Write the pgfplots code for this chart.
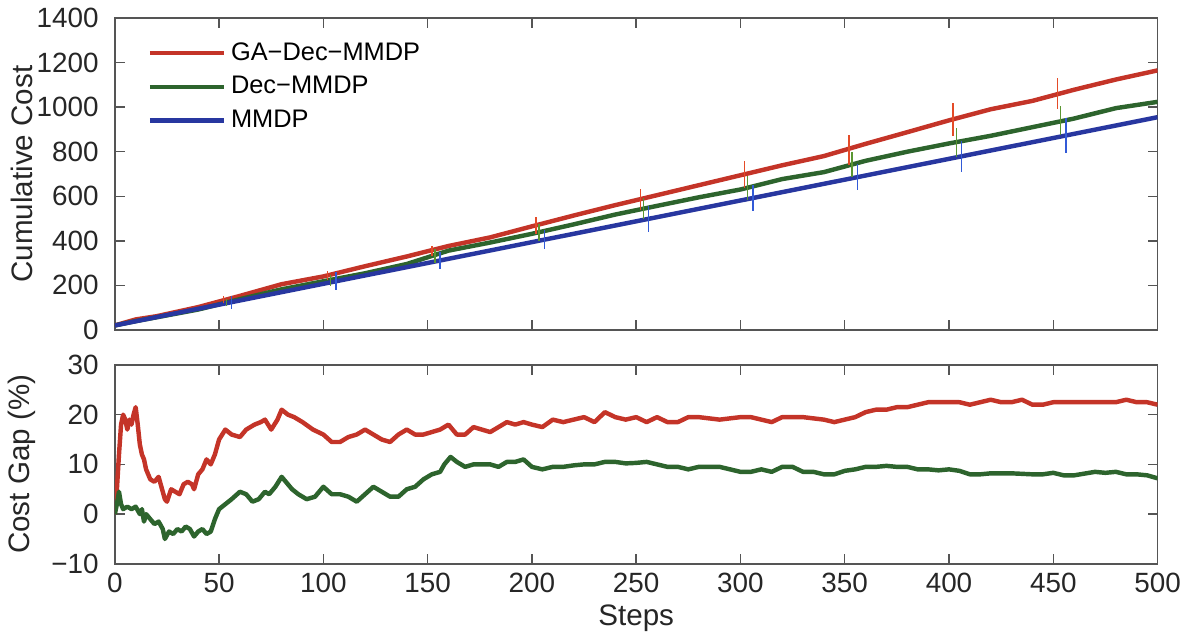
\documentclass[border=0pt]{standalone}
\usepackage{fontspec}
\setmainfont{Liberation Sans}
\usepackage{pgfplots}
\pgfplotsset{compat=1.18}

\definecolor{cRed}{RGB}{196,52,40}
\definecolor{cGreen}{RGB}{45,100,45}
\definecolor{cBlue}{RGB}{40,55,160}
\definecolor{eRed}{RGB}{228,75,40}
\definecolor{eGreen}{RGB}{90,150,50}
\definecolor{eBlue}{RGB}{50,90,215}
\definecolor{axgray}{RGB}{85,85,85}

\pgfplotsset{
  mystyle/.style={
    scale only axis,
    width=423pt,
    xmin=0, xmax=500,
    xtick={0,50,...,500},
    tick align=inside,
    major tick length=4pt,
    axis line style={axgray, line width=0.6pt},
    every tick/.style={axgray, line width=0.6pt},
    /pgf/number format/assume math mode=true,
    /pgf/number format/1000 sep={},
    tick label style={font=\fontsize{11.3}{13}\selectfont, text=black!85},
    yticklabel style={xshift=-3pt},
    label style={font=\fontsize{12}{14}\selectfont, text=black!85},
    ylabel style={at={(axis description cs:-0.089,0.5)}, anchor=center},
  },
  dataline/.style={line width=1.8pt, line join=round},
  ebar/.style={forget plot, draw=none, no markers,
    error bars/.cd, y dir=both, y explicit, error mark=none,
    error bar style={draw=#1, line width=0.6pt}},
}

\begin{document}
\begin{tikzpicture}
\begin{axis}[
  mystyle,
  name=top,
  at={(0,0)}, anchor=south west,
  height=126.5pt,
  ymin=0, ymax=1400,
  ytick={0,200,...,1400},
  xticklabel=\empty,
  ylabel={Cumulative Cost},
  legend style={at={(0.024,0.955)}, anchor=north west, draw=none, fill=none,
    font=\fontsize{10.3}{12}\selectfont, row sep=1pt,
    legend cell align=left,
    /tikz/every even column/.append style={column sep=3pt}},
  legend image code/.code={\draw[#1] (0pt,0pt) -- (30pt,0pt);},
]
\addplot[dataline, cRed] coordinates {
  (0,20) (10,47.0) (20,61.4) (40,102.4) (60,152.7) (80,205.2) (100,240.1)
  (120,285.9) (140,329.7) (160,376.7) (180,415.4) (200,464.9) (220,513.4)
  (240,560.2) (260,604.9) (280,649.6) (300,694.3) (320,739.0) (340,780.4)
  (360,835.3) (380,887.7) (400,940.8) (420,990.6) (440,1028.2) (460,1078.2)
  (480,1124.1) (500,1165.1)
};
\addlegendentry{GA−Dec−MMDP}
\addplot[dataline, cGreen] coordinates {
  (0,20) (10,39.3) (20,56.5) (40,91.5) (60,138.1) (80,182.3) (100,218.4)
  (120,254.2) (140,295.9) (160,355.9) (180,392.3) (200,431.4) (220,473.7)
  (240,518.0) (260,556.8) (280,595.2) (300,630.4) (320,677.1) (340,708.3)
  (360,759.1) (380,800.0) (400,837.1) (420,871.4) (440,910.2) (460,948.9)
  (480,995.6) (500,1023.8)
};
\addlegendentry{Dec−MMDP}
\addplot[dataline, cBlue] coordinates {
  (0,20) (10,38.7) (20,57.4) (40,94.8) (60,132.2) (80,169.6) (100,207.0)
  (120,244.4) (140,281.8) (160,319.2) (180,356.6) (200,394.0) (220,431.4)
  (240,468.8) (260,506.2) (280,543.6) (300,581.0) (320,618.4) (340,655.8)
  (360,693.2) (380,730.6) (400,768.0) (420,805.4) (440,842.8) (460,880.2)
  (480,917.6) (500,955.0)
};
\addlegendentry{MMDP}
% error bars every 50 steps
\addplot[ebar=eRed] table[x=x, y=y, y error=e] {
x y e
52 136.5 15
102 243.4 20
152 354.4 22
202 469.3 37
252 584.5 47
302 698.7 60
352 808.4 66
402 945.3 75
452 1059.9 70
};
\addplot[ebar=eGreen] table[x=x, y=y, y error=e] {
x y e
53.5 122.4 15
103.5 222.7 25
153.5 331.6 30
203.5 437.3 40
253.5 545.4 47
303.5 637.4 55
353.5 741.6 57
403.5 842.7 65
453.5 939.2 65
};
\addplot[ebar=eBlue] table[x=x, y=y, y error=e] {
x y e
56 124.7 29
106 218.2 40
156 311.7 40
206 405.2 43
256 498.7 58
306 592.2 60
356 685.7 58
406 779.2 70
456 872.7 80
};
\end{axis}

\begin{axis}[
  mystyle,
  at={(0,-14.2pt)}, anchor=north west,
  height=80.7pt,
  ymin=-10, ymax=30,
  ytick={-10,0,10,20,30},
  yticklabels={−10,0,10,20,30},
  xlabel={Steps},
  ylabel={Cost Gap (\%)},
  xlabel style={at={(axis description cs:0.5,0)}, anchor=center, yshift=-22pt},
]
\addplot[dataline, cRed] coordinates {
  (0,0) (1,5) (2,12) (3,18) (4,20) (5,19) (6,17) (7,19) (8,18) (9,20)
  (10,21.5) (11,18) (12,14) (13,12) (14,11) (15,9) (17,7) (19,6.5) (21,7.5)
  (22,6) (24,3) (25,2.5) (27,5) (29,4.5) (31,4) (33,6) (35,6.5) (37,6) (38,5)
  (40,8) (42,9) (44,11) (46,10) (48,12) (50,15) (53,17) (56,16) (60,15.5)
  (63,17) (67,18) (70,18.5) (72,19) (75,17) (78,19) (80,21) (83,20) (86,19.5)
  (90,18.5) (95,17) (100,16) (104,14.5) (108,14.5) (112,15.5) (116,16)
  (120,17) (124,16) (128,15) (132,14.5) (136,16) (140,17) (144,16) (148,16)
  (152,16.5) (156,17) (160,18) (164,16) (168,16) (172,17.5) (176,17)
  (180,16.5) (184,17.5) (188,18.5) (192,18) (196,18.5) (200,18) (205,17.5)
  (210,19) (215,18.5) (220,19) (225,19.5) (230,18.5) (235,20.5) (240,19.5)
  (245,19) (250,19.5) (255,18.5) (260,19.5) (265,18.5) (270,18.5) (275,19.5)
  (280,19.5) (290,19) (300,19.5) (305,19.5) (310,19) (315,18.5) (320,19.5)
  (325,19.5) (330,19.5) (340,19) (345,18.5) (350,19) (355,19.5) (360,20.5)
  (365,21) (370,21) (375,21.5) (380,21.5) (385,22) (390,22.5) (400,22.5)
  (405,22.5) (410,22) (415,22.5) (420,23) (425,22.5) (430,22.5) (435,23)
  (440,22) (445,22) (450,22.5) (460,22.5) (470,22.5) (480,22.5) (485,23)
  (490,22.5) (495,22.5) (500,22)
};
\addplot[dataline, cGreen] coordinates {
  (0,0) (1,2) (2,4.5) (3,2) (4,1) (6,1.5) (8,1) (10,1.5) (12,0) (13,1)
  (14,-1.5) (15,0) (17,-1) (19,-2) (21,-1.5) (23,-3) (24,-5) (26,-3.5)
  (28,-4) (30,-3) (32,-3.5) (34,-2.5) (36,-3) (38,-4.5) (40,-3.5) (42,-3)
  (44,-4) (46,-3.5) (48,-1) (50,1) (53,2) (56,3) (60,4.5) (63,4) (66,2.5)
  (69,3) (72,4.5) (74,4) (77,5.5) (80,7.5) (82,6.5) (85,5) (88,4) (92,3)
  (96,3.5) (100,5.5) (104,4) (108,4) (112,3.5) (116,2.5) (120,4) (124,5.5)
  (128,4.5) (132,3.5) (136,3.5) (140,5) (144,5.5) (148,7) (152,8) (156,8.5)
  (158,10) (161,11.5) (164,10.5) (168,9.5) (172,10) (176,10) (180,10)
  (184,9.5) (188,10.5) (192,10.5) (196,11) (200,9.5) (205,9) (210,9.5)
  (215,9.5) (220,9.8) (225,10) (230,10) (235,10.5) (240,10.5) (245,10.2)
  (250,10.3) (255,10.5) (260,10) (265,9.5) (270,9.5) (275,9) (280,9.5)
  (285,9.5) (290,9.5) (295,9) (300,8.5) (305,8.5) (310,9) (315,8.5)
  (320,9.5) (325,9.5) (330,8.5) (335,8.5) (340,8) (345,8) (350,8.7)
  (355,9) (360,9.5) (365,9.5) (370,9.7) (375,9.5) (380,9.5) (385,9) (390,9)
  (395,8.8) (400,9) (405,8.7) (410,8) (415,8) (420,8.2) (430,8.2) (440,8)
  (445,8) (450,8.3) (455,7.8) (460,7.8) (470,8.5) (475,8.3) (480,8.5)
  (485,8) (490,8) (495,7.8) (500,7.2)
};
\end{axis}
\end{tikzpicture}
\end{document}
